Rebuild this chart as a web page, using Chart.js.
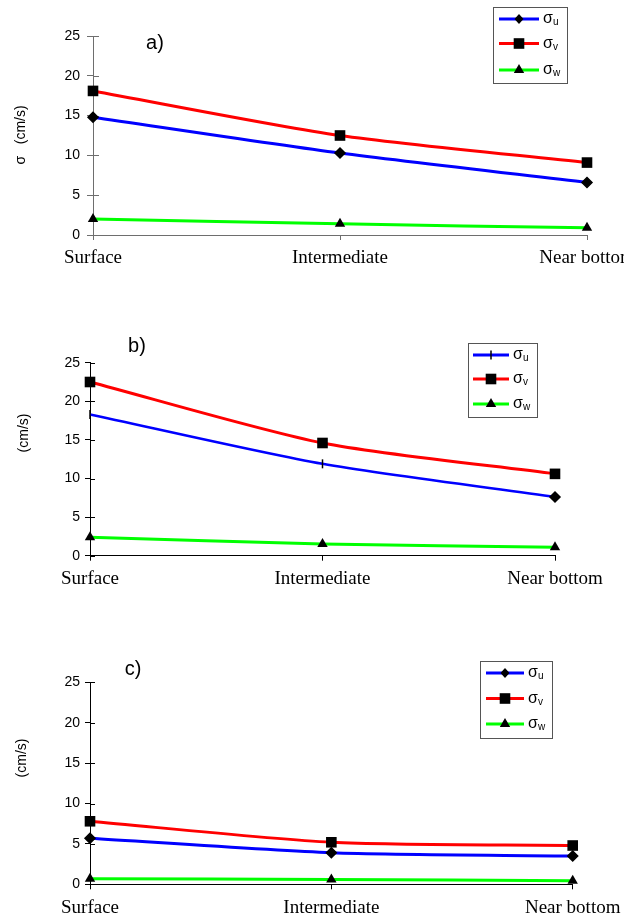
<!DOCTYPE html>
<html>
<head>
<meta charset="utf-8">
<script src="https://cdn.jsdelivr.net/npm/chart.js@4.4.1/dist/chart.umd.min.js"></script>
<style>
  html, body { margin: 0; padding: 0; background: #fff; overflow: hidden; }
  .panel { position: absolute; left: 0; }
</style>
</head>
<body>
<div class="panel" style="top:0px"><canvas id="ca" width="624" height="300"></canvas></div>
<div class="panel" style="top:300px"><canvas id="cb" width="624" height="310"></canvas></div>
<div class="panel" style="top:610px"><canvas id="cc" width="624" height="309"></canvas></div>
<script>
// ---------- DATA ----------
const categories = ['Surface', 'Intermediate', 'Near bottom'];
const yTickValues = [0, 5, 10, 15, 20, 25];
const seriesNames = ['σu', 'σv', 'σw'];

// panel a)
const sigmaU_a = [14.8, 10.3, 6.6];
const sigmaV_a = [18.1, 12.5, 9.1];
const sigmaW_a = [2.0, 1.4, 0.9];
// panel b)
const sigmaU_b = [18.3, 11.9, 7.6];
const sigmaV_b = [22.5, 14.6, 10.6];
const sigmaW_b = [2.4, 1.5, 1.1];
// panel c)
const sigmaU_c = [5.7, 3.9, 3.5];
const sigmaV_c = [7.8, 5.2, 4.8];
const sigmaW_c = [0.7, 0.6, 0.45];

const panelLetters = ['a)', 'b)', 'c)'];
const yTitles = ['σ   (cm/s)', '(cm/s)', '(cm/s)'];

// ---------- PLUGINS ----------
function drawMarker(ctx, style, rot, r, x, y) {
  ctx.save();
  ctx.translate(x, y);
  ctx.rotate((rot || 0) * Math.PI / 180);
  ctx.fillStyle = '#000';
  ctx.strokeStyle = '#000';
  ctx.beginPath();
  if (style === 'rect') {
    const s = Math.SQRT1_2 * r;
    ctx.rect(-s, -s, 2 * s, 2 * s);
    ctx.fill();
  } else if (style === 'rectRot') {
    ctx.moveTo(0, -r); ctx.lineTo(r * 0.9, 0); ctx.lineTo(0, r); ctx.lineTo(-r * 0.9, 0); ctx.closePath();
    ctx.fill();
  } else if (style === 'triangle') {
    ctx.moveTo(0, -r);
    ctx.lineTo(Math.sin(2 * Math.PI / 3) * r, r / 2);
    ctx.lineTo(-Math.sin(2 * Math.PI / 3) * r, r / 2);
    ctx.closePath();
    ctx.fill();
  } else if (style === 'line') {
    ctx.lineWidth = 1.5;
    ctx.moveTo(r, 0); ctx.lineTo(-r, 0);
    ctx.stroke();
  }
  ctx.restore();
}

const boxLegend = {
  id: 'boxLegend',
  afterDraw(chart, args, o) {
    if (!o || !o.rows) return;
    const ctx = chart.ctx;
    ctx.save();
    ctx.strokeStyle = o.borderColor;
    ctx.lineWidth = 1;
    ctx.strokeRect(Math.round(o.x) + 0.5, Math.round(o.y) + 0.5, o.w, o.h);
    chart.data.datasets.forEach((ds, i) => {
      const ry = o.rows[i];
      ctx.strokeStyle = ds.borderColor;
      ctx.lineWidth = 3;
      ctx.beginPath();
      ctx.moveTo(o.lineX0, ry); ctx.lineTo(o.lineX1, ry);
      ctx.stroke();
      const ps = Array.isArray(ds.pointStyle) ? ds.pointStyle[0] : ds.pointStyle;
      const rot = Array.isArray(ds.pointRotation) ? ds.pointRotation[0] : (ds.pointRotation || 0);
      const rad = Array.isArray(ds.pointRadius) ? ds.pointRadius[0] : ds.pointRadius;
      drawMarker(ctx, ps, rot, rad, (o.lineX0 + o.lineX1) / 2, ry);
      const main = ds.label.charAt(0), sub = ds.label.slice(1);
      ctx.fillStyle = '#000';
      ctx.textBaseline = 'alphabetic';
      ctx.textAlign = 'left';
      ctx.font = '16px "Liberation Sans", Arial, sans-serif';
      ctx.fillText(main, o.textX, ry + 4);
      const w = ctx.measureText(main).width;
      ctx.font = '10px "Liberation Sans", Arial, sans-serif';
      ctx.fillText(sub, o.textX + w, ry + 6);
    });
    ctx.restore();
  }
};

const panelText = {
  id: 'panelText',
  afterDraw(chart, args, o) {
    if (!o) return;
    const ctx = chart.ctx;
    ctx.save();
    ctx.fillStyle = '#000';
    ctx.textAlign = 'center';
    ctx.textBaseline = 'middle';
    ctx.font = '20px "Liberation Sans", Arial, sans-serif';
    ctx.fillText(o.letter, o.letterX, o.letterY);
    ctx.translate(o.titleX, o.titleY);
    ctx.rotate(-Math.PI / 2);
    ctx.font = '14px "Liberation Sans", Arial, sans-serif';
    ctx.fillText(o.title, 0, 0);
    ctx.restore();
  }
};

const innerTicks = {
  id: 'innerTicks',
  beforeDatasetsDraw(chart, args, o) {
    const ys = chart.scales.y;
    const ctx = chart.ctx;
    ctx.save();
    ctx.strokeStyle = o.color;
    ctx.lineWidth = 1;
    ys.ticks.forEach(t => {
      const py = Math.round(ys.getPixelForValue(t.value)) + 0.5;
      ctx.beginPath();
      ctx.moveTo(chart.chartArea.left, py);
      ctx.lineTo(chart.chartArea.left + o.len, py);
      ctx.stroke();
    });
    ctx.restore();
  }
};

// ---------- BUILDER ----------
function makeChart(id, u, v, w, cfg) {
  const uStyle = cfg.uStyle || 'rectRot';
  const uRot = cfg.uRot || 0;
  const uRad = cfg.uRad || 5;
  const datasets = [
    { label: seriesNames[0], data: u, borderColor: '#0000ff', borderWidth: cfg.uWidth || 3,
      pointStyle: uStyle, pointRotation: uRot, pointRadius: uRad,
      pointBackgroundColor: '#000', pointBorderColor: '#000', pointBorderWidth: 1.5 },
    { label: seriesNames[1], data: v, borderColor: '#ff0000', borderWidth: 3,
      pointStyle: 'rect', pointRadius: 7.5, pointRotation: 0,
      pointBackgroundColor: '#000', pointBorderColor: '#000', pointBorderWidth: 0 },
    { label: seriesNames[2], data: w, borderColor: '#00ff00', borderWidth: 3,
      pointStyle: 'triangle', pointRadius: 6, pointRotation: 0,
      pointBackgroundColor: '#000', pointBorderColor: '#000', pointBorderWidth: 0 }
  ].map(d => Object.assign(d, { tension: 0.25, clip: false, fill: false, pointHoverRadius: d.pointRadius }));

  const H = document.getElementById(id).height;
  const xAxisH = 30;
  return new Chart(document.getElementById(id), {
    type: 'line',
    data: { labels: categories, datasets },
    plugins: [innerTicks, panelText, boxLegend],
    options: {
      responsive: false,
      devicePixelRatio: 1,
      animation: false,
      events: [],
      layout: { padding: { top: cfg.top, left: 0, right: 624 - cfg.right, bottom: H - cfg.bottom - xAxisH } },
      scales: {
        x: {
          type: 'category',
          offset: false,
          grid: { display: true, drawOnChartArea: false, drawTicks: true, tickLength: 5, color: cfg.axisColor },
          border: { display: true, color: cfg.axisColor, width: 1 },
          ticks: { color: '#000', padding: 7, maxRotation: 0, autoSkip: false,
                   font: { family: '"Liberation Serif", "Times New Roman", serif', size: 19 } },
          afterFit(s) { s.height = xAxisH; s.paddingLeft = 0; s.paddingRight = 0; }
        },
        y: {
          min: 0, max: 25,
          afterBuildTicks(s) { s.ticks = yTickValues.map(vv => ({ value: vv })); },
          grid: { display: true, drawOnChartArea: false, drawTicks: true, tickLength: cfg.tickLen, color: cfg.axisColor },
          border: { display: true, color: cfg.axisColor, width: 1 },
          ticks: { color: '#000', padding: cfg.tickPad,
                   font: { family: '"Liberation Sans", Arial, sans-serif', size: 14 } },
          title: { display: false },
          afterFit(s) { s.width = cfg.left; s.paddingTop = 0; s.paddingBottom = 0; }
        }
      },
      plugins: {
        legend: { display: false },
        tooltip: { enabled: false },
        innerTicks: { color: cfg.axisColor, len: cfg.tickLen },
        panelText: cfg.text,
        boxLegend: cfg.legend
      }
    }
  });
}

makeChart('ca', sigmaU_a, sigmaV_a, sigmaW_a, {
  top: 36, bottom: 235, left: 93, right: 587, axisColor: '#6e6e6e', tickLen: 6, tickPad: 7,
  text: { letter: panelLetters[0], letterX: 155, letterY: 43, title: yTitles[0], titleX: 21, titleY: 135 },
  legend: { x: 493, y: 7, w: 74, h: 76, borderColor: '#555', lineX0: 499, lineX1: 539, textX: 543, rows: [19, 43.5, 70] }
});

makeChart('cb', sigmaU_b, sigmaV_b, sigmaW_b, {
  top: 62.7, bottom: 255.7, left: 90, right: 555, axisColor: '#000', tickLen: 5, tickPad: 5,
  uStyle: ['line', 'line', 'rectRot'], uRot: [90, 90, 0], uRad: [4.5, 4.5, 5], uWidth: 2.5,
  text: { letter: panelLetters[1], letterX: 137, letterY: 46, title: yTitles[1], titleX: 24, titleY: 133 },
  legend: { x: 468, y: 43, w: 69, h: 74, borderColor: '#555', lineX0: 473, lineX1: 509, textX: 513, rows: [55, 79, 104] }
});

makeChart('cc', sigmaU_c, sigmaV_c, sigmaW_c, {
  top: 72.3, bottom: 274.3, left: 90, right: 572.7, axisColor: '#000', tickLen: 5, tickPad: 5,
  text: { letter: panelLetters[2], letterX: 133, letterY: 59, title: yTitles[2], titleX: 22, titleY: 148 },
  legend: { x: 480, y: 51, w: 72, h: 77, borderColor: '#555', lineX0: 486, lineX1: 524, textX: 528, rows: [63, 88.5, 114] }
});
</script>
</body>
</html>
